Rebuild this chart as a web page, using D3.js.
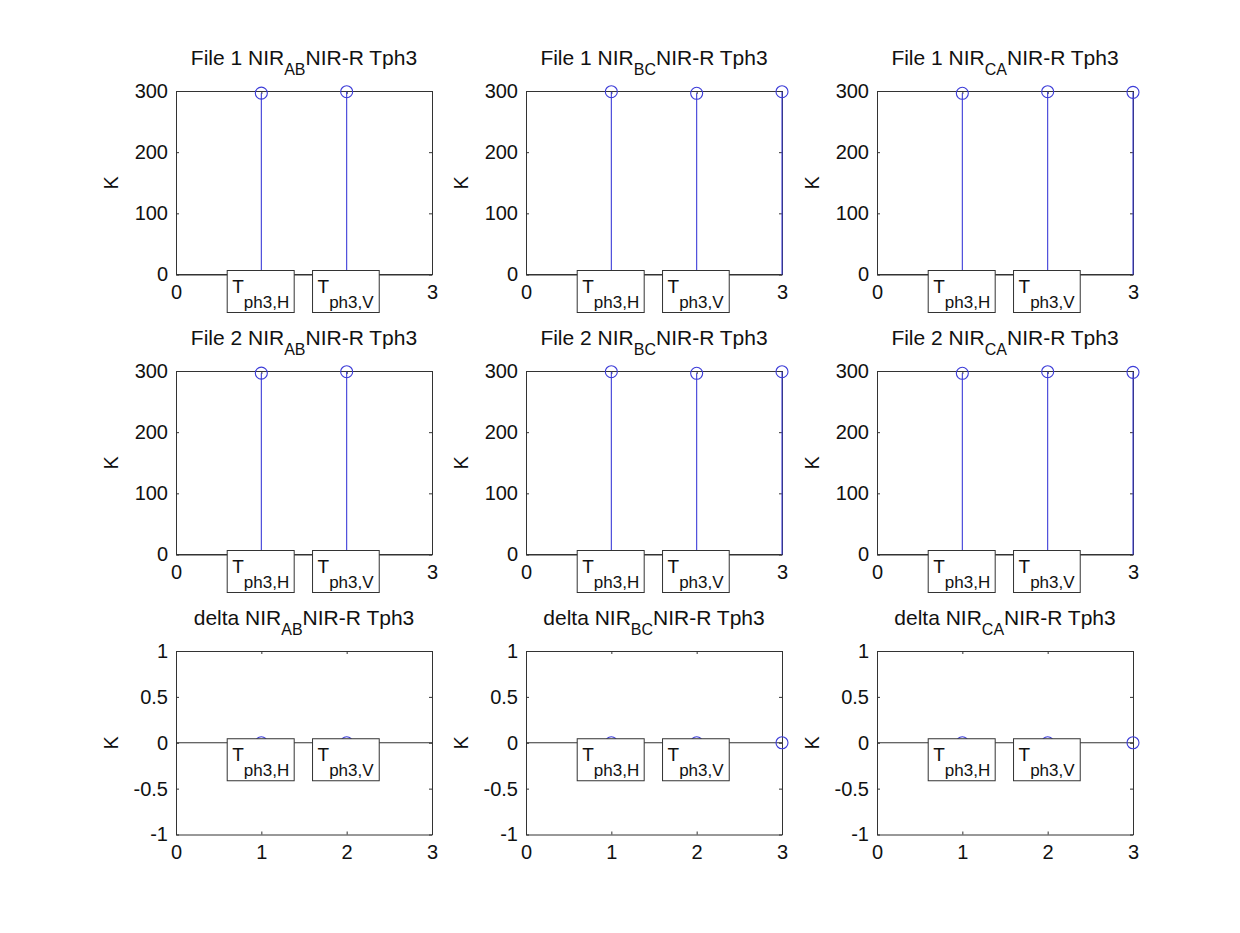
<!DOCTYPE html>
<html>
<head>
<meta charset="utf-8">
<script src="https://cdn.jsdelivr.net/npm/d3@7"></script>
<style>
  body { margin: 0; background: #fff; }
  svg { font-family: "Liberation Sans", Arial, sans-serif; }
  .axis path, .axis line { stroke: #333; }
  .axis text { fill: #111; font-size: 20px; }
</style>
</head>
<body>
<div id="chart"></div>
<script>
// data
var rowNames = ["File 1", "File 2", "delta"];
var pairNames = ["AB", "BC", "CA"];
var labelNames = ["ph3,H", "ph3,V"];

var file1AB = [296.5, 298.8];
var file1BC = [298.8, 296.2, 298.8];
var file1CA = [296.2, 298.8, 297.8];
var file2AB = [296.5, 298.8];
var file2BC = [298.8, 296.2, 298.8];
var file2CA = [296.2, 298.8, 297.8];
var deltaAB = [0, 0];
var deltaBC = [0, 0, 0];
var deltaCA = [0, 0, 0];

var series = [
  [file1AB, file1BC, file1CA],
  [file2AB, file2BC, file2CA],
  [deltaAB, deltaBC, deltaCA]
];

var xTicks = [0, 1, 2, 3];
var tempTicks = [0, 100, 200, 300];
var deltaTicks = [-1, -0.5, 0, 0.5, 1];

var colLeft = [176, 526, 877];
var rowTop = [91, 371, 651];
var w = 256,
  h = 183.5;

var svg = d3
  .select("#chart")
  .append("svg")
  .attr("width", 1240)
  .attr("height", 933);

var stemColor = "#3c3cd8";

// plain hyphen minus like the original
var plain = function(d) {
  return String(d);
};

rowNames.forEach(function(rowName, r) {
  pairNames.forEach(function(pair, c) {
    var values = series[r][c];
    var isDelta = r == 2;

    var x = d3.scaleLinear().domain([0, 3]).range([0, w]);
    var y = d3
      .scaleLinear()
      .domain(isDelta ? [-1, 1] : [0, 300])
      .range([h, 0]);
    var yTicks = isDelta ? deltaTicks : tempTicks;

    var g = svg
      .append("g")
      .attr("transform", "translate(" + colLeft[c] + "," + rowTop[r] + ")");

    // title
    var title = g
      .append("text")
      .attr("x", w / 2)
      .attr("y", -26)
      .attr("text-anchor", "middle")
      .style("font-size", "21px")
      .style("fill", "#111");
    title.append("tspan").text(rowName + " NIR");
    title
      .append("tspan")
      .attr("dy", 10)
      .style("font-size", "16px")
      .text(pair);
    title
      .append("tspan")
      .attr("dy", -10)
      .text("NIR-R Tph3");

    // in the top rows the labels 1 and 2 sit behind the boxes
    var xFormat = function(d) {
      if (!isDelta && (d == 1 || d == 2)) return "";
      return plain(d);
    };

    // axes, MATLAB style ticks pointing inward
    g.append("g")
      .attr("class", "axis")
      .attr("transform", "translate(0," + h + ")")
      .call(
        d3
          .axisBottom(x)
          .tickValues(xTicks)
          .tickSizeInner(-3)
          .tickSizeOuter(0)
          .tickPadding(10)
          .tickFormat(xFormat)
      );
    g.append("g")
      .attr("class", "axis")
      .call(
        d3.axisTop(x).tickValues(xTicks).tickSizeInner(-3).tickSizeOuter(0).tickFormat("")
      );
    g.append("g")
      .attr("class", "axis")
      .call(
        d3
          .axisLeft(y)
          .tickValues(yTicks)
          .tickSizeInner(-3)
          .tickSizeOuter(0)
          .tickPadding(8)
          .tickFormat(plain)
      );
    g.append("g")
      .attr("class", "axis")
      .attr("transform", "translate(" + w + ",0)")
      .call(
        d3.axisRight(y).tickValues(yTicks).tickSizeInner(-3).tickSizeOuter(0).tickFormat("")
      );

    g.append("text")
      .attr("transform", "translate(-58," + h / 2 + ") rotate(-90)")
      .attr("text-anchor", "middle")
      .style("font-size", "20px")
      .style("fill", "#111")
      .text("K");

    // baseline of the stems
    g.append("line")
      .attr("x1", 0)
      .attr("x2", w)
      .attr("y1", y(0))
      .attr("y2", y(0))
      .attr("stroke", "#333");

    // stems
    var pts = values.map(function(v, i) {
      return { i: i + 1, v: v };
    });
    g.selectAll(".stem")
      .data(pts)
      .enter()
      .append("line")
      .attr("class", "stem")
      .attr("x1", function(d) { return x(d.i); })
      .attr("x2", function(d) { return x(d.i); })
      .attr("y1", y(0))
      .attr("y2", function(d) { return y(d.v); })
      .attr("stroke", stemColor)
      .attr("stroke-width", 1.1);
    g.selectAll(".mark")
      .data(pts)
      .enter()
      .append("circle")
      .attr("class", "mark")
      .attr("cx", function(d) { return x(d.i); })
      .attr("cy", function(d) { return y(d.v); })
      .attr("r", 6)
      .attr("fill", "none")
      .attr("stroke", stemColor)
      .attr("stroke-width", 1.1);

    // boxed labels
    labelNames.forEach(function(lab, k) {
      var bx = x(k + 1 - 0.4);
      var by = y(0) - 4;
      var box = g.append("rect").attr("fill", "#fff").attr("stroke", "#333");
      var t = g
        .append("text")
        .attr("x", bx + 5)
        .attr("y", by + 22)
        .style("fill", "#111");
      t.append("tspan").style("font-size", "19px").text("T");
      t.append("tspan")
        .attr("dy", 15)
        .style("font-size", "17px")
        .text(lab);
      var bb = t.node().getBBox();
      box
        .attr("x", bx)
        .attr("y", by)
        .attr("width", bb.x + bb.width - bx + 5)
        .attr("height", 42);
    });
  });
});
</script>
</body>
</html>
